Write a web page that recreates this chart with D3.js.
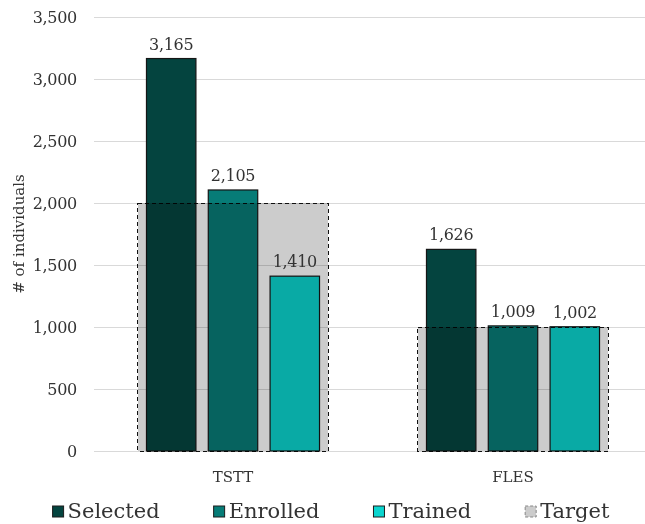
<!DOCTYPE html>
<html>
<head>
<meta charset="utf-8">
<script src="https://cdn.jsdelivr.net/npm/d3@7"></script>
<style>
  html, body { margin: 0; padding: 0; background: #ffffff; }
  svg { display: block; }
  text { font-family: "DejaVu Serif", "Liberation Serif", serif; fill: #333333; }
</style>
</head>
<body>
<div id="chart"></div>
<script>
// Programme groups and counts of individuals
const categories = ["TSTT", "FLES"];
const seriesNames = ["Selected", "Enrolled", "Trained"];
const selected = [3165, 1626];
const enrolled = [2105, 1009];
const trained = [1410, 1002];
const target = [2000, 1000];
const yTicks = [0, 500, 1000, 1500, 2000, 2500, 3000, 3500];
const legendLabels = ["Selected", "Enrolled", "Trained", "Target"];

const seriesValues = [selected, enrolled, trained];
const colors = ["#04443f", "#077c77", "#0bd5cf"];

const width = 645, height = 524;
const svg = d3.select("#chart").append("svg")
  .attr("width", width).attr("height", height);

const plot = { left: 93, right: 653, top: 17, bottom: 451 };

const y = d3.scaleLinear().domain([0, 3500]).range([plot.bottom, plot.top]);
const x = d3.scaleBand().domain(categories).range([plot.left, plot.right]).padding(0);
const bw = x.bandwidth();
const clusterW = bw * 0.618;
const targetW = bw * 0.68;
const inner = d3.scaleBand().domain(seriesNames).range([-clusterW / 2, clusterW / 2]).paddingInner(0.2);

// Gridlines and tick labels
const yAxis = d3.axisLeft(y).tickValues(yTicks).tickSize(0).tickPadding(0)
  .tickFormat(d3.format(","));
const gy = svg.append("g").attr("transform", `translate(${plot.left},0)`).call(yAxis);
gy.select(".domain").remove();
gy.selectAll(".tick line")
  .attr("x1", 1).attr("x2", width - plot.left)
  .attr("stroke", "#d9d9d9").attr("stroke-width", 1)
  .attr("shape-rendering", "crispEdges");
gy.selectAll(".tick text")
  .attr("x", -16).attr("dy", "0.36em")
  .style("font-size", "16px").style("font-family", "DejaVu Serif")
  .style("letter-spacing", "-0.3px").attr("fill", "#3a3a3a");

// Y axis title
svg.append("text")
  .attr("transform", `translate(24,${(plot.top + plot.bottom) / 2}) rotate(-90)`)
  .attr("text-anchor", "middle")
  .style("font-size", "15px")
  .attr("fill", "#333333")
  .text("# of individuals");

// Bars
const barG = svg.append("g");
categories.forEach((cat, ci) => {
  const cx = x(cat) + bw / 2;
  seriesNames.forEach((s, si) => {
    const v = seriesValues[si][ci];
    barG.append("rect")
      .attr("x", cx + inner(s))
      .attr("y", y(v))
      .attr("width", inner.bandwidth())
      .attr("height", y(0) - y(v))
      .attr("fill", colors[si])
      .attr("stroke", "#151515")
      .attr("stroke-width", 1.2);
  });
});

// Target boxes, multiplied over the bars
const tgtG = svg.append("g");
categories.forEach((cat, ci) => {
  const cx = x(cat) + bw / 2;
  tgtG.append("rect")
    .attr("x", cx - targetW / 2)
    .attr("y", y(target[ci]))
    .attr("width", targetW)
    .attr("height", y(0) - y(target[ci]))
    .attr("fill", "#cccccc")
    .style("mix-blend-mode", "multiply")
    .attr("stroke", "#111111")
    .attr("stroke-width", 1)
    .attr("stroke-dasharray", "4,3")
    .attr("shape-rendering", "crispEdges");
});

// Value labels
const fmt = d3.format(",");
categories.forEach((cat, ci) => {
  const cx = x(cat) + bw / 2;
  seriesNames.forEach((s, si) => {
    const v = seriesValues[si][ci];
    svg.append("text")
      .attr("x", cx + inner(s) + inner.bandwidth() / 2)
      .attr("y", y(v) - 9)
      .attr("text-anchor", "middle")
      .style("font-size", "16px")
      .style("letter-spacing", "-0.3px")
      .attr("fill", "#262626")
      .text(fmt(v));
  });
});

// Category labels
categories.forEach(cat => {
  svg.append("text")
    .attr("x", x(cat) + bw / 2)
    .attr("y", 482)
    .attr("text-anchor", "middle")
    .style("font-size", "15px")
    .attr("fill", "#333333")
    .text(cat);
});

// Legend
const legend = svg.append("g");
let cursor = 0;
legendLabels.forEach((lab, i) => {
  const g = legend.append("g");
  const sw = g.append("rect")
    .attr("x", 0).attr("y", -12).attr("width", 11).attr("height", 11);
  if (i < 3) {
    sw.attr("fill", colors[i]).attr("stroke", "#1c1c1c").attr("stroke-width", 1);
  } else {
    sw.attr("fill", "#cccccc").attr("stroke", "#888888").attr("stroke-width", 1)
      .attr("stroke-dasharray", "3,2");
  }
  const t = g.append("text").attr("x", 15).attr("y", 0)
    .style("font-size", "21px").attr("fill", "#262626").text(lab);
  const w = 15 + t.node().getComputedTextLength();
  g.attr("transform", `translate(${cursor},0)`);
  cursor += w + 54;
});
const totalW = cursor - 54;
legend.attr("transform", `translate(${(54 + 608) / 2 - totalW / 2},518)`);
</script>
</body>
</html>
